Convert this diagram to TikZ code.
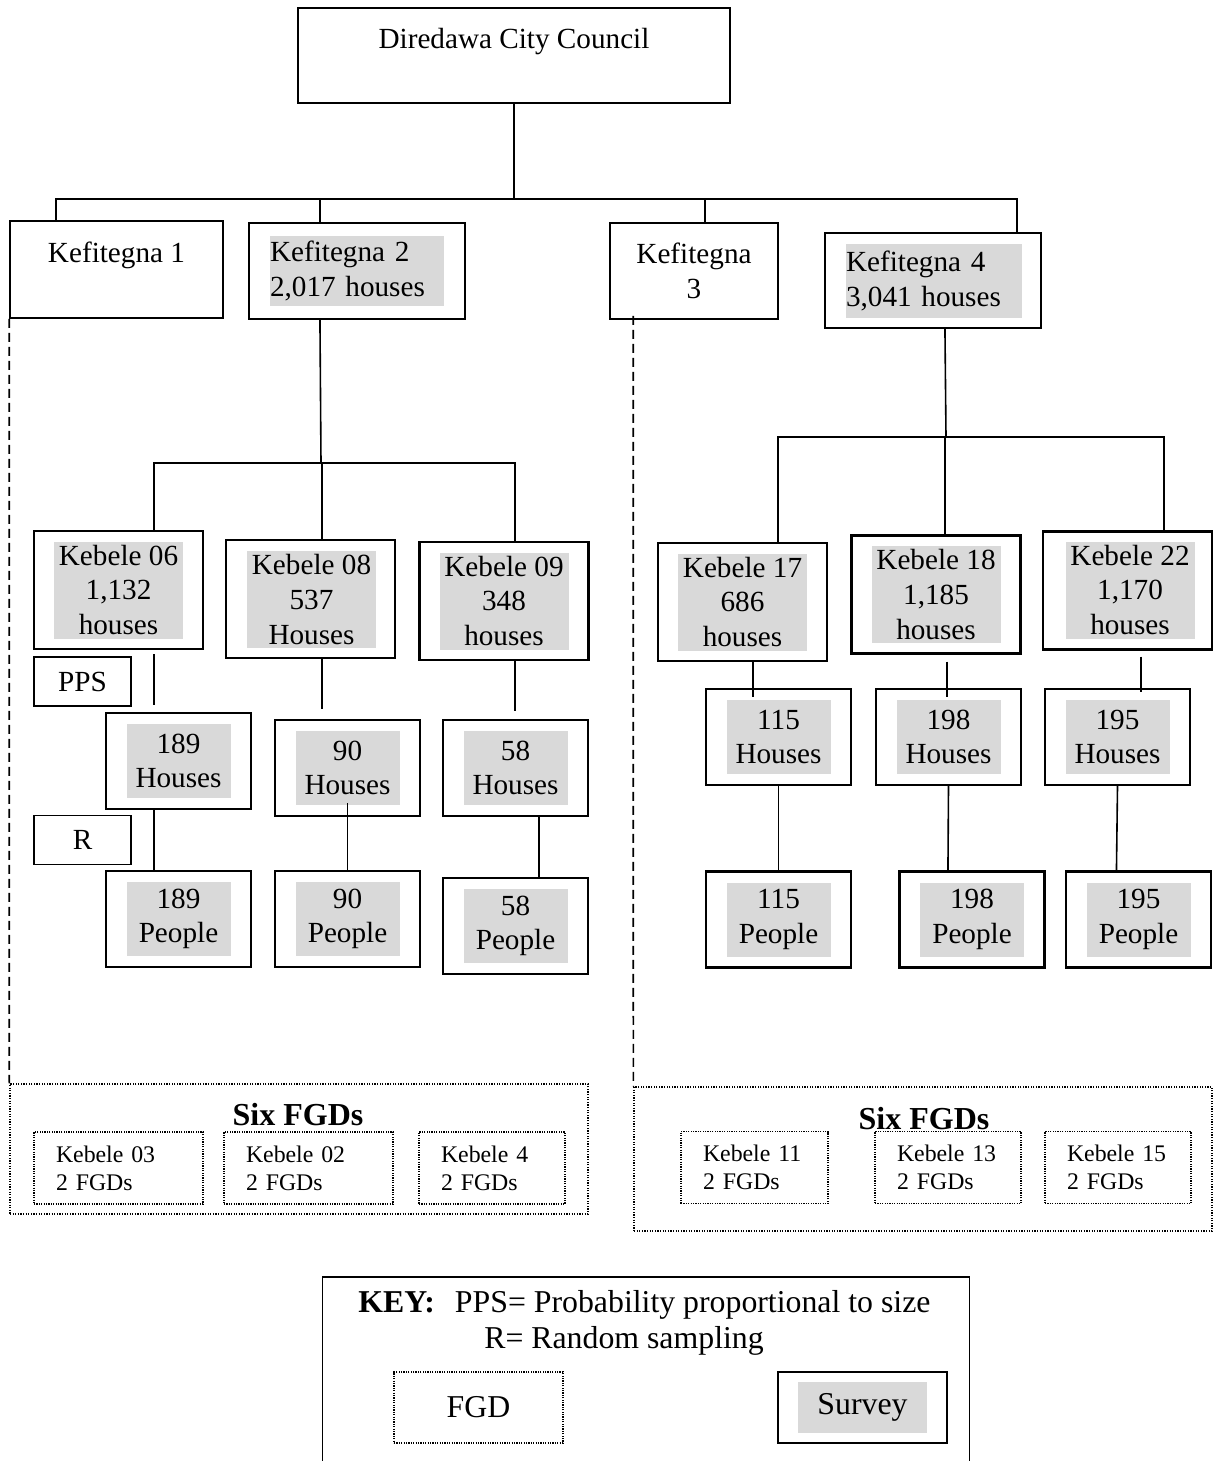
\documentclass[tikz,border=0pt]{standalone}
\usepackage{fontspec}
\setmainfont{Liberation Serif}
\definecolor{shadegray}{RGB}{217,217,217}
\newcommand{\bigtxt}{\fontsize{14.6}{17.3}\selectfont}
\newcommand{\keytxt}{\fontsize{15.9}{18.5}\selectfont}
\newcommand{\smalltxt}{\fontsize{11.9}{14}\selectfont}
\newcommand{\headtxt}{\fontsize{16}{19}\selectfont\bfseries}
\begin{document}
\begin{tikzpicture}[x=0.5pt,y=-0.5pt,
    plainbox/.style={draw,line width=0.8pt,inner sep=0pt,align=center,font=\bigtxt},
    surveybox/.style={draw,line width=1.05pt,inner sep=0pt},
    grayfill/.style={fill=shadegray,inner sep=0pt,align=center,font=\bigtxt},
    kebelebox/.style={surveybox,minimum width=84.5pt,minimum height=59pt},
    kebelefill/.style={grayfill,minimum width=64.5pt,minimum height=48.5pt},
    samplebox/.style={surveybox,minimum width=72.5pt,minimum height=48pt},
    samplefill/.style={grayfill,minimum width=52pt,minimum height=37pt},
    fgdbox/.style={draw,line width=0.9pt,dash pattern=on 0.6pt off 0.6pt,inner xsep=11pt,inner ysep=0pt,align=left,font=\smalltxt,minimum height=36pt},
    groupbox/.style={draw,line width=0.7pt,dash pattern=on 0.6pt off 0.7pt,inner sep=0pt},
    conn/.style={line width=0.8pt},
    dashconn/.style={line width=0.8pt,dash pattern=on 4.5pt off 2.5pt}]
\useasboundingbox (0,0) rectangle (1216,1461);

% top levels
\node[plainbox,minimum width=216pt,minimum height=47.5pt] (council) at (514,55.5) {Diredawa City Council\\~};
\node[plainbox,minimum width=106.5pt,minimum height=48.5pt] (kef1) at (116.5,269.5) {Kefitegna 1\\~};
\node[surveybox,minimum width=108pt,minimum height=48pt] (kef2) at (357,271) {};
\node[grayfill,align=left,text width=87pt,minimum height=35pt] at (kef2) {Kefitegna 2\\2,017 houses};
\node[plainbox,minimum width=84pt,minimum height=48pt] (kef3) at (694,271) {Kefitegna\\3};
\node[surveybox,minimum width=108pt,minimum height=47.5pt] (kef4) at (933,280.5) {};
\node[grayfill,align=left,text width=88pt,minimum height=37pt] at (934,281) {Kefitegna 4\\3,041 houses};

% kebeles
\node[kebelebox] (k06) at (118.5,590) {};
\node[kebelefill] at (k06) {Kebele 06\\1,132\\houses};
\node[kebelebox] (k08) at (310.5,599) {};
\node[kebelefill] at (311.5,599.5) {Kebele 08\\537\\Houses};
\node[kebelebox] (k09) at (504,601) {};
\node[kebelefill] at (k09) {Kebele 09\\348\\houses};
\node[kebelebox] (k17) at (742.5,602) {};
\node[kebelefill] at (k17) {Kebele 17\\686\\houses};
\node[kebelebox] (k18) at (936,594.5) {};
\node[kebelefill] at (k18) {Kebele 18\\1,185\\houses};
\node[kebelebox] (k22) at (1127.5,590.5) {};
\node[kebelefill] at (1130,590) {Kebele 22\\1,170\\houses};

\node[plainbox,minimum width=48.5pt,minimum height=24.5pt] (pps) at (82.5,681.5) {PPS};
\node[plainbox,minimum width=48.5pt,minimum height=24.5pt] (rand) at (82.5,840) {R};

% sampled houses and people
\node[samplebox] (h189) at (178.5,761) {};
\node[samplefill] at (h189) {189\\Houses};
\node[samplebox] (h90) at (347.5,768) {};
\node[samplefill] at (h90) {90\\Houses};
\node[samplebox] (h58) at (515.5,768) {};
\node[samplefill] at (h58) {58\\Houses};
\node[samplebox] (p189) at (178.5,919) {};
\node[samplefill] at (p189) {189\\People};
\node[samplebox] (p90) at (347.5,919) {};
\node[samplefill] at (p90) {90\\People};
\node[samplebox] (p58) at (515.5,926) {};
\node[samplefill] at (p58) {58\\People};
\node[samplebox] (h115) at (778.5,737) {};
\node[samplefill] at (h115) {115\\Houses};
\node[samplebox] (h198) at (948.5,737) {};
\node[samplefill] at (h198) {198\\Houses};
\node[samplebox] (h195) at (1117.5,737) {};
\node[samplefill] at (h195) {195\\Houses};
\node[samplebox] (p115) at (778.5,919.5) {};
\node[samplefill] at (p115) {115\\People};
\node[samplebox] (p198) at (972,919.5) {};
\node[samplefill] at (p198) {198\\People};
\node[samplebox] (p195) at (1138.5,919.5) {};
\node[samplefill] at (p195) {195\\People};

% focus groups
\node[groupbox,minimum width=289pt,minimum height=65pt] (fgdL) at (299,1149) {};
\node[font=\headtxt] at (298,1115) {Six FGDs};
\node[fgdbox,text width=62.5pt] (f03) at (118.5,1168) {Kebele 03\\2 FGDs};
\node[fgdbox,text width=62.5pt] (f02) at (308.5,1168) {Kebele 02\\2 FGDs};
\node[fgdbox,text width=51pt] (f04) at (492,1168) {Kebele 4\\2 FGDs};
\node[groupbox,minimum width=289pt,minimum height=72pt] (fgdR) at (923,1159) {};
\node[fgdbox,text width=51.5pt] (f11) at (754.5,1167.5) {Kebele 11\\2 FGDs};
\node[fgdbox,text width=51pt] (f13) at (948,1167.5) {Kebele 13\\2 FGDs};
\node[fgdbox,text width=51pt] (f15) at (1118,1167.5) {Kebele 15\\2 FGDs};
\node[font=\headtxt] at (924,1119) {Six FGDs};

% key
\node[plainbox,anchor=north,minimum width=323.5pt,minimum height=110pt] (key) at (646,1276) {};
\node[font=\keytxt,anchor=west,inner sep=0pt] (keyline) at (358,1305) {\textbf{KEY:}\hspace{10pt}PPS= Probability proportional to size};
\node[font=\keytxt] (keyrand) at (624,1341) {R= Random sampling};
\node[fgdbox,align=center,font=\keytxt,inner xsep=0pt,minimum width=84.5pt,minimum height=35.5pt] (legfgd) at (478.5,1407.5) {FGD};
\node[surveybox,minimum width=84.5pt,minimum height=35.5pt] (legsurvey) at (862.5,1407.5) {};
\node[grayfill,font=\keytxt,minimum width=64.5pt,minimum height=25.5pt] at (legsurvey) {Survey};

% connectors
\coordinate (topbus) at (514,199);
\draw[conn] (council.south) -- (topbus);
\draw[conn] ([xshift=23.5pt]kef1.north west) |- (topbus);
\draw[conn] ([xshift=36pt]kef2.north west) |- (topbus);
\draw[conn] ([xshift=48pt]kef3.north west) |- (topbus);
\draw[conn] ([xshift=96.5pt]kef4.north west) |- (topbus);

\coordinate (leftbus) at (321,463);
\draw[conn] ([xshift=36pt]kef2.south west) -- (leftbus);
\draw[conn] ([xshift=60.5pt]k06.north west) |- (leftbus);
\draw[conn] ([xshift=48.5pt]k08.north west) |- (leftbus);
\draw[conn] ([xshift=48.25pt]k09.north west) |- (leftbus);

\coordinate (rightbus) at (946,437);
\draw[conn] ([xshift=60.5pt]kef4.south west) -- (rightbus);
\draw[conn] ([xshift=60.5pt]k17.north west) |- (rightbus);
\draw[conn] ([xshift=47.25pt]k18.north west) |- (rightbus);
\draw[conn] ([xshift=61pt]k22.north west) |- (rightbus);

\draw[conn] ([xshift=60.5pt,yshift=-2pt]k06.south west) -- ([xshift=24.5pt,yshift=3.5pt]h189.north west);
\draw[conn] ([xshift=24.5pt]h189.south west) -- ([xshift=24.5pt]p189.north west);
\draw[conn] ([xshift=48.5pt]k08.south west) -- ([xshift=24pt,yshift=5pt]h90.north west);
\draw[conn] ([yshift=7pt]h90.south) -- (p90.north);
\draw[conn] ([xshift=48.25pt]k09.south west) -- ([xshift=36.5pt,yshift=4pt]h58.north west);
\draw[conn] ([xshift=48.5pt]h58.south west) -- ([xshift=48.5pt]p58.north west);

\draw[conn] ([xshift=48pt]k17.south west) -- ([xshift=24pt,yshift=-4.5pt]h115.north west);
\draw[conn] ([xshift=48.25pt,yshift=-3.5pt]k18.south west) -- ([xshift=36pt,yshift=-4.5pt]h198.north west);
\draw[conn] ([xshift=49.5pt,yshift=-3pt]k22.south west) -- ([xshift=48.5pt,yshift=-2pt]h195.north west);
\draw[conn] (h115.south) -- (p115.north);
\draw[conn] (h198.south) -- ([xshift=24.75pt]p198.north west);
\draw[conn] (h195.south) -- ([xshift=25.75pt]p195.north west);

\draw[dashconn] (kef1.south west) -- (fgdL.north west);
\draw[dashconn] ([xshift=12pt,yshift=2pt]kef3.south west) -- (fgdR.north west);
\end{tikzpicture}
\end{document}
